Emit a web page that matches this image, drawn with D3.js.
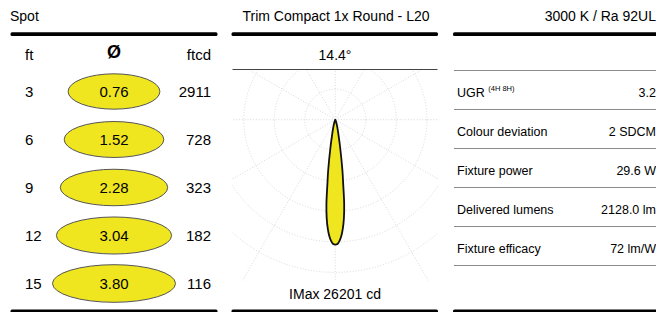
<!DOCTYPE html>
<html>
<head>
<meta charset="utf-8">
<script src="https://cdn.jsdelivr.net/npm/d3@7"></script>
<style>
  body { margin: 0; background: #fff; }
  svg { display: block; font-family: "Liberation Sans", Arial, sans-serif; }
</style>
</head>
<body>
<svg id="chart" width="656" height="312"></svg>
<script>
// spot table
const distances = [3, 6, 9, 12, 15];            // ft
const diameters = [0.76, 1.52, 2.28, 3.04, 3.80]; // spot diameter
const illuminance = [2911, 728, 323, 182, 116];  // ftcd

// polar intensity curve (C0-C180 plane), gamma in degrees, cd
const gammas = [0, 1, 2, 3, 4, 5, 6, 7, 8, 10, 12, 15, 20, 30];
const intensity = [26201, 26070, 25400, 24370, 22800, 20700, 17800, 13600, 10700, 5760, 3140, 1570, 520, 130];
const ringValues = [6400, 12800, 19200, 25600, 32000];
const spokeAngles = [0, 30, 60, 90, 120, 150, 180, 210, 240, 270, 300, 330];
const imax = 26201;
const beamAngle = '14.4°';

// properties
const propLabels = ['UGR', 'Colour deviation', 'Fixture power', 'Delivered lumens', 'Fixture efficacy'];
const propValues = ['3.2', '2 SDCM', '29.6 W', '2128.0 lm', '72 lm/W'];

const titles = ['Spot', 'Trim Compact 1x Round - L20', '3000 K / Ra 92UL'];

const yellow = '#f0e620';
const svg = d3.select('#chart');

// panel frames
const panels = [
  { x0: 10.5, x1: 217.5 },
  { x0: 231.5, x1: 438 },
  { x0: 453, x1: 662 }
];
panels.forEach(p => {
  svg.append('rect').attr('x', p.x0).attr('y', 32.2).attr('width', p.x1 - p.x0).attr('height', 3.8)
    .attr('rx', 1.5).attr('fill', '#000');
  svg.append('rect').attr('x', p.x0).attr('y', 309.4).attr('width', p.x1 - p.x0).attr('height', 4)
    .attr('rx', 1.5).attr('fill', '#000');
});

svg.append('text').attr('x', 10).attr('y', 21).attr('font-size', 14).text(titles[0]);
svg.append('text').attr('x', 336).attr('y', 21).attr('font-size', 14).attr('text-anchor', 'middle').text(titles[1]);
svg.append('text').attr('x', 656).attr('y', 21).attr('font-size', 14).attr('text-anchor', 'end').text(titles[2]);

// ---- spot panel
const spot = svg.append('g');
const yRow = d3.scalePoint().domain(distances).range([91.5, 283.5]);
const rx = d3.scaleLinear().domain([0, d3.max(diameters)]).range([42, 61.5]);
const ry = d3.scaleLinear().domain([0, d3.max(diameters)]).range([17.4, 18.8]);
const cx = 114;

spot.append('text').attr('x', 25).attr('y', 60).attr('font-size', 15).text('ft');
spot.append('text').attr('x', 211).attr('y', 60).attr('font-size', 15).attr('text-anchor', 'end').text('ftcd');
spot.append('text').attr('x', cx).attr('y', 57.5).attr('font-size', 18).attr('font-weight', 'bold')
  .attr('text-anchor', 'middle').text('Ø');

const rows = spot.selectAll('g.row')
  .data(distances.map((d, i) => ({ d, dia: diameters[i], lux: illuminance[i] })))
  .enter().append('g').attr('class', 'row')
  .attr('transform', d => `translate(0,${yRow(d.d)})`);

rows.append('ellipse')
  .attr('cx', cx)
  .attr('rx', d => rx(d.dia))
  .attr('ry', d => ry(d.dia))
  .attr('fill', yellow)
  .attr('stroke', '#555')
  .attr('stroke-width', 1);
rows.append('text').attr('x', 25).attr('dy', '0.35em').attr('font-size', 15).text(d => d.d);
rows.append('text').attr('x', cx).attr('dy', '0.35em').attr('font-size', 15).attr('text-anchor', 'middle')
  .text(d => d.dia.toFixed(2));
rows.append('text').attr('x', 211).attr('dy', '0.35em').attr('font-size', 15).attr('text-anchor', 'end')
  .text(d => d.lux);

// ---- polar panel
svg.append('text').attr('x', 335).attr('y', 60).attr('font-size', 14).attr('text-anchor', 'middle').text(beamAngle);
svg.append('line').attr('x1', 232.5).attr('x2', 437.5).attr('y1', 69.5).attr('y2', 69.5)
  .attr('stroke', '#444').attr('stroke-width', 1.2);

svg.append('clipPath').attr('id', 'polar-clip')
  .append('rect').attr('x', 232).attr('y', 70.5).attr('width', 206).attr('height', 210);

const center = { x: 335.3, y: 119.7 };
const r = d3.scaleLinear().domain([0, imax]).range([0, 125]);
const polar = svg.append('g').attr('clip-path', 'url(#polar-clip)')
  .append('g').attr('transform', `translate(${center.x},${center.y})`);

const gridStyle = sel => sel.attr('fill', 'none').attr('stroke', '#c8c8c8')
  .attr('stroke-width', 0.7).attr('stroke-dasharray', '1,1.8');

polar.selectAll('circle.ring').data(ringValues).enter().append('circle')
  .attr('class', 'ring').attr('r', d => r(d)).call(gridStyle);

const rOuter = r(d3.max(ringValues)) + 60;
polar.selectAll('line.spoke').data(spokeAngles).enter().append('line')
  .attr('class', 'spoke')
  .attr('x2', d => rOuter * Math.sin(d * Math.PI / 180))
  .attr('y2', d => -rOuter * Math.cos(d * Math.PI / 180))
  .call(gridStyle);

// symmetric curve: origin -> -30..30 -> origin
const half = gammas.map((g, i) => ({ g, v: intensity[i] }));
const pts = [{ g: -90, v: 0 }]
  .concat(half.slice().reverse().map(p => ({ g: -p.g, v: p.v })))
  .concat(half.slice(1))
  .concat([{ g: 90, v: 0 }]);

const curvePath = d3.line()
  .x(p => r(p.v) * Math.sin(p.g * Math.PI / 180))
  .y(p => r(p.v) * Math.cos(p.g * Math.PI / 180))
  .curve(d3.curveCatmullRom.alpha(0.5));

polar.append('path')
  .attr('d', curvePath(pts) + 'Z')
  .attr('fill', yellow)
  .attr('stroke', '#111')
  .attr('stroke-width', 1.8)
  .attr('stroke-linejoin', 'round');

svg.append('text').attr('x', 335).attr('y', 299).attr('font-size', 14).attr('text-anchor', 'middle')
  .text(`IMax ${imax} cd`);

// ---- properties panel
const yProp = d3.scaleLinear().domain([0, propLabels.length]).range([70, 265]);
svg.selectAll('line.sep').data(d3.range(propLabels.length + 1)).enter().append('line')
  .attr('class', 'sep')
  .attr('x1', 454).attr('x2', 656)
  .attr('y1', d => yProp(d) + 0.5).attr('y2', d => yProp(d) + 0.5)
  .attr('stroke', '#8c8c8c').attr('stroke-width', 1.2);

const props = svg.selectAll('g.prop')
  .data(propLabels.map((l, i) => ({ l, v: propValues[i], i })))
  .enter().append('g').attr('class', 'prop')
  .attr('transform', d => `translate(0,${(yProp(d.i) + yProp(d.i + 1)) / 2 + 7})`);

const lbl = props.append('text').attr('x', 457).attr('font-size', 12.5).text(d => d.l);
lbl.filter(d => d.l === 'UGR').append('tspan')
  .attr('dx', 3.5).attr('dy', -5.5).attr('font-size', 7.5).text('(4H 8H)');
props.append('text').attr('x', 656).attr('font-size', 12.5).attr('text-anchor', 'end').text(d => d.v);
</script>
</body>
</html>
